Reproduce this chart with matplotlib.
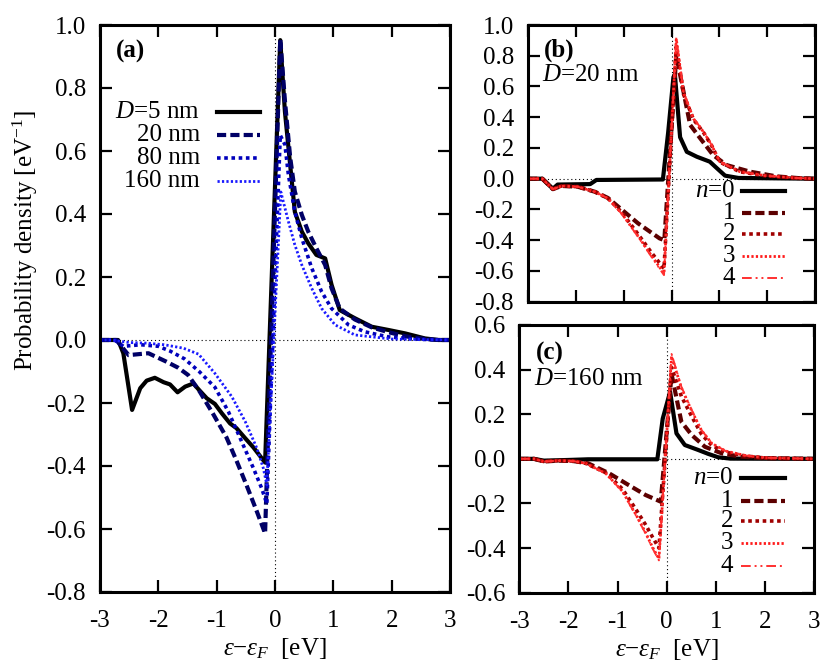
import matplotlib
matplotlib.use("Agg")
import matplotlib.pyplot as plt
from matplotlib.ticker import FixedLocator, FuncFormatter

plt.rcParams['font.family'] = ['Liberation Serif', 'DejaVu Serif']
plt.rcParams['mathtext.fontset'] = 'custom'
plt.rcParams['mathtext.rm'] = 'Liberation Serif'
plt.rcParams['mathtext.it'] = 'Liberation Serif:italic'
plt.rcParams['mathtext.bf'] = 'Liberation Serif:bold'
plt.rcParams['axes.unicode_minus'] = False

# ---------------- data: panel (a) ----------------
x_d5 = [-3.0, -2.69, -2.60, -2.45, -2.31, -2.20, -2.06, -1.91, -1.80, -1.67, -1.54, -1.40, -1.29,
        -1.17, -1.03, -0.91, -0.77, -0.66, -0.51, -0.37, -0.17, 0.09, 0.17, 0.26, 0.34, 0.46,
        0.57, 0.71, 0.86, 0.97, 1.11, 1.37, 1.66, 1.94, 2.23, 2.57, 2.8, 3.0]
y_d5 = [0, 0, -0.042, -0.222, -0.153, -0.129, -0.12, -0.134, -0.141, -0.166, -0.148, -0.138, -0.161,
        -0.185, -0.203, -0.233, -0.265, -0.28, -0.312, -0.341, -0.389, 0.952, 0.725, 0.556, 0.407, 0.344,
        0.307, 0.27, 0.259, 0.175, 0.095, 0.069, 0.042, 0.032, 0.021, 0.005, 0, 0]

x_d20 = [-3.0, -2.72, -2.51, -2.17, -1.86, -1.66, -1.49, -1.29, -1.06, -0.83, -0.66, -0.49, -0.31,
         -0.17, 0.09, 0.17, 0.26, 0.34, 0.46, 0.57, 0.71, 0.86, 0.97, 1.11, 1.37, 1.66, 1.94,
         2.23, 2.57, 2.8, 3.0]
y_d20 = [0, 0, -0.048, -0.042, -0.069, -0.088, -0.111, -0.164, -0.235, -0.31, -0.383, -0.46, -0.545,
         -0.614, 0.955, 0.76, 0.58, 0.471, 0.397, 0.344, 0.291, 0.238, 0.164, 0.1, 0.065, 0.04, 0.025,
         0.012, 0.003, 0, 0]

x_d80 = [-3.0, -2.75, -2.6, -2.3, -2.0, -1.8, -1.55, -1.3, -1.03, -0.8, -0.57, -0.37, -0.23, -0.14,
         0.09, 0.17, 0.23, 0.34, 0.46, 0.63, 0.8, 0.97, 1.26, 1.54, 1.94, 2.5, 3.0]
y_d80 = [0, 0, -0.02, -0.015, -0.02, -0.035, -0.06, -0.1, -0.15, -0.227, -0.323, -0.407, -0.47, -0.52,
         0.65, 0.62, 0.524, 0.407, 0.323, 0.228, 0.153, 0.1, 0.048, 0.026, 0.01, 0.002, 0]

x_d160 = [-3.0, -2.8, -2.5, -2.2, -1.9, -1.57, -1.31, -1.03, -0.74, -0.51, -0.31, -0.2, -0.14,
          0.1, 0.23, 0.34, 0.46, 0.63, 0.8, 1.03, 1.37, 2.0, 3.0]
y_d160 = [0, 0, -0.008, -0.01, -0.015, -0.026, -0.045, -0.106, -0.18, -0.259, -0.344, -0.407, -0.46,
          0.47, 0.376, 0.302, 0.238, 0.164, 0.1, 0.048, 0.016, 0.003, 0]

labels_a = ["$D$=5 nm", "20 nm", "80 nm", "160 nm"]

# ---------------- data: panel (b), D=20 nm ----------------
xb_n0 = [-3, -2.7, -2.48, -2.38, -1.7, -1.57, -0.18, -0.07, 0.04, 0.07, 0.18, 0.32, 0.53, 0.8,
         0.95, 1.12, 1.4, 3.0]
yb_n0 = [0, 0, -0.065, -0.038, -0.035, -0.008, -0.005, 0.3, 0.66, 0.68, 0.27, 0.175, 0.143, 0.111,
         0.068, 0.02, 0.005, 0]
xb_n1 = [-3, -2.7, -2.48, -2.3, -1.96, -1.6, -1.33, -1.12, -0.7, -0.25, -0.15, 0.1, 0.39, 0.6,
         0.87, 1.15, 1.64, 2.2, 2.7, 3.0]
yb_n1 = [0, 0, -0.068, -0.047, -0.052, -0.085, -0.125, -0.18, -0.29, -0.388, -0.40, 0.80, 0.35, 0.263,
         0.154, 0.089, 0.046, 0.015, 0.003, 0]
xb_n234 = [-3, -2.7, -2.48, -2.3, -1.96, -1.6, -1.33, -1.05, -0.7, -0.42, -0.157, 0.1, 0.25, 0.46,
           0.67, 0.84, 1.01, 1.43, 1.96, 2.6, 3.0]
yb_n2 = [0, 0, -0.068, -0.047, -0.052, -0.085, -0.127, -0.215, -0.36, -0.48, -0.585, 0.86, 0.55, 0.385,
         0.3, 0.215, 0.108, 0.045, 0.019, 0.005, 0]
yb_n3 = [0, 0, -0.068, -0.047, -0.052, -0.085, -0.128, -0.222, -0.372, -0.50, -0.615, 0.91, 0.56, 0.39,
         0.304, 0.218, 0.11, 0.046, 0.02, 0.005, 0]
yb_n4 = [0, 0, -0.068, -0.047, -0.052, -0.085, -0.128, -0.225, -0.377, -0.507, -0.627, 0.92, 0.566, 0.393,
         0.306, 0.219, 0.111, 0.046, 0.02, 0.005, 0]

# ---------------- data: panel (c), D=160 nm ----------------
xc_n0 = [-3, -2.7, -2.5, -2.0, -1.6, -0.19, -0.08, 0.07, 0.2, 0.37, 0.64, 0.85, 1.05, 1.3, 3.0]
yc_n0 = [0, 0, -0.008, -0.005, -0.002, -0.002, 0.18, 0.30, 0.114, 0.062, 0.04, 0.022, 0.007, 0.001, 0]
xc_n1 = [-3, -2.7, -2.5, -2.2, -1.9, -1.6, -1.17, -0.77, -0.43, -0.12, 0.1, 0.3, 0.51, 0.78, 1.12,
         1.5, 2.0, 3.0]
yc_n1 = [0, 0, -0.012, -0.008, -0.01, -0.02, -0.065, -0.118, -0.162, -0.192, 0.38, 0.166, 0.107, 0.054,
         0.025, 0.01, 0.003, 0]
xc_n234 = [-3, -2.7, -2.5, -2.2, -1.9, -1.65, -1.24, -0.9, -0.63, -0.43, -0.29, -0.157, 0.1, 0.3,
           0.51, 0.71, 0.92, 1.2, 1.6, 2.0, 3.0]
yc_n2 = [0, 0, -0.012, -0.008, -0.01, -0.02, -0.062, -0.135, -0.225, -0.295, -0.35, -0.40, 0.41, 0.28,
         0.19, 0.11, 0.06, 0.03, 0.013, 0.004, 0]
yc_n3 = [0, 0, -0.012, -0.008, -0.01, -0.02, -0.065, -0.145, -0.248, -0.33, -0.395, -0.448, 0.46, 0.318,
         0.215, 0.127, 0.069, 0.035, 0.015, 0.005, 0]
yc_n4 = [0, 0, -0.012, -0.008, -0.01, -0.02, -0.065, -0.147, -0.252, -0.334, -0.4, -0.455, 0.47, 0.323,
         0.219, 0.129, 0.07, 0.035, 0.015, 0.005, 0]

labels_n = ["$n$=0", "1", "2", "3", "4"]

xticks = [-3, -2, -1, 0, 1, 2, 3]

# ---------------- styles ----------------
FS = 18
sty_a = [
    dict(color='black', lw=3.0, ls='-'),
    dict(color='#000066', lw=3.0, dashes=(2.2, 1.0)),
    dict(color='#0000bb', lw=2.6, dashes=(1.0, 1.0)),
    dict(color='#1a1aff', lw=2.0, dashes=(0.8, 0.8)),
]
sty_n = [
    dict(color='black', lw=3.0, ls='-'),
    dict(color='#5c0000', lw=3.0, dashes=(2.2, 1.0)),
    dict(color='#a00000', lw=2.6, dashes=(1.0, 1.0)),
    dict(color='#ff1a1a', lw=2.0, dashes=(0.8, 0.8)),
    dict(color='#ff3030', lw=1.4, dashes=(5, 2, 1, 2, 1, 2)),
]

fig = plt.figure(figsize=(8.3, 6.7), dpi=100)
W, H = 830.0, 670.0


def add_ax(l, t, r, b):
    return fig.add_axes([l / W, 1 - b / H, (r - l) / W, (b - t) / H])


def style_ax(ax, ylim, yticks, show_xlabels=True):
    ax.set_xlim(-3, 3)
    ax.set_ylim(*ylim)
    ax.xaxis.set_major_locator(FixedLocator(xticks))
    ax.yaxis.set_major_locator(FixedLocator(yticks))
    ax.yaxis.set_major_formatter(FuncFormatter(lambda v, p: "%.1f" % v))
    ax.xaxis.set_major_formatter(FuncFormatter(lambda v, p: "%d" % round(v)))
    ax.tick_params(direction='in', length=8.5, width=1.6, top=True, right=True,
                   labelsize=FS, pad=10)
    ax.tick_params(axis='x', pad=13)
    if not show_xlabels:
        ax.tick_params(axis='x', labelbottom=False)
    for s in ax.spines.values():
        s.set_linewidth(2.2)
    ax.axhline(0, color='black', lw=0.8, ls=(0, (1, 2.5)), zorder=0.5)
    ax.axvline(0, color='black', lw=0.8, ls=(0, (1, 2.5)), zorder=0.5)


def key(ax, labels, styles, xt, x0, x1, ys):
    for lab, st, yy in zip(labels, styles, ys):
        ax.text(xt, yy, lab, transform=ax.transAxes, ha='right', va='center', fontsize=FS)
        ax.plot([x0, x1], [yy, yy], transform=ax.transAxes, clip_on=False, **st)


XLABEL = "$\\varepsilon$\u2212$\\varepsilon_F$  [eV]"

# panel (a)
axa = add_ax(100, 25, 450, 592)
style_ax(axa, (-0.8, 1.0), [-0.8, -0.6, -0.4, -0.2, 0.0, 0.2, 0.4, 0.6, 0.8, 1.0])
for xs, ys, st in zip([x_d5, x_d20, x_d80, x_d160], [y_d5, y_d20, y_d80, y_d160], sty_a):
    axa.plot(xs, ys, **st)
axa.text(0.045, 0.953, "(a)", transform=axa.transAxes, fontsize=FS, fontweight='bold',
         ha='left', va='center')
key(axa, labels_a, sty_a, 0.286, 0.333, 0.457, [0.847, 0.806, 0.765, 0.724])
axa.set_xlabel(XLABEL, fontsize=FS, labelpad=3)
fig.text(25 / W, 1 - 240 / H, "Probability density [eV$^{\\mathrm{-1}}$]", rotation=90,
         ha='center', va='center', fontsize=FS)

# panel (b)
axb = add_ax(528, 25, 815, 301.7)
style_ax(axb, (-0.8, 1.0), [-0.8, -0.6, -0.4, -0.2, 0.0, 0.2, 0.4, 0.6, 0.8, 1.0], show_xlabels=False)
for xs, ys, st in zip([xb_n0, xb_n1, xb_n234, xb_n234, xb_n234],
                      [yb_n0, yb_n1, yb_n2, yb_n3, yb_n4], sty_n):
    axb.plot(xs, ys, **st)
axb.text(0.055, 0.91, "(b)", transform=axb.transAxes, fontsize=FS, fontweight='bold',
         ha='left', va='center')
axb.text(0.05, 0.82, "$D$=20 nm", transform=axb.transAxes, fontsize=FS, ha='left', va='center')
key(axb, labels_n, sty_n, 0.721, 0.745, 0.895, [0.40, 0.321, 0.243, 0.165, 0.086])

# panel (c)
axc = add_ax(519.3, 325, 814, 592.7)
style_ax(axc, (-0.6, 0.6), [-0.6, -0.4, -0.2, 0.0, 0.2, 0.4, 0.6])
for xs, ys, st in zip([xc_n0, xc_n1, xc_n234, xc_n234, xc_n234],
                      [yc_n0, yc_n1, yc_n2, yc_n3, yc_n4], sty_n):
    axc.plot(xs, ys, **st)
axc.text(0.055, 0.894, "(c)", transform=axc.transAxes, fontsize=FS, fontweight='bold',
         ha='left', va='center')
axc.text(0.05, 0.80, "$D$=160 nm", transform=axc.transAxes, fontsize=FS, ha='left', va='center')
key(axc, labels_n, sty_n, 0.726, 0.752, 0.90, [0.427, 0.344, 0.266, 0.185, 0.098])
axc.set_xlabel(XLABEL, fontsize=FS, labelpad=3)

fig.savefig("out.png", dpi=100)
